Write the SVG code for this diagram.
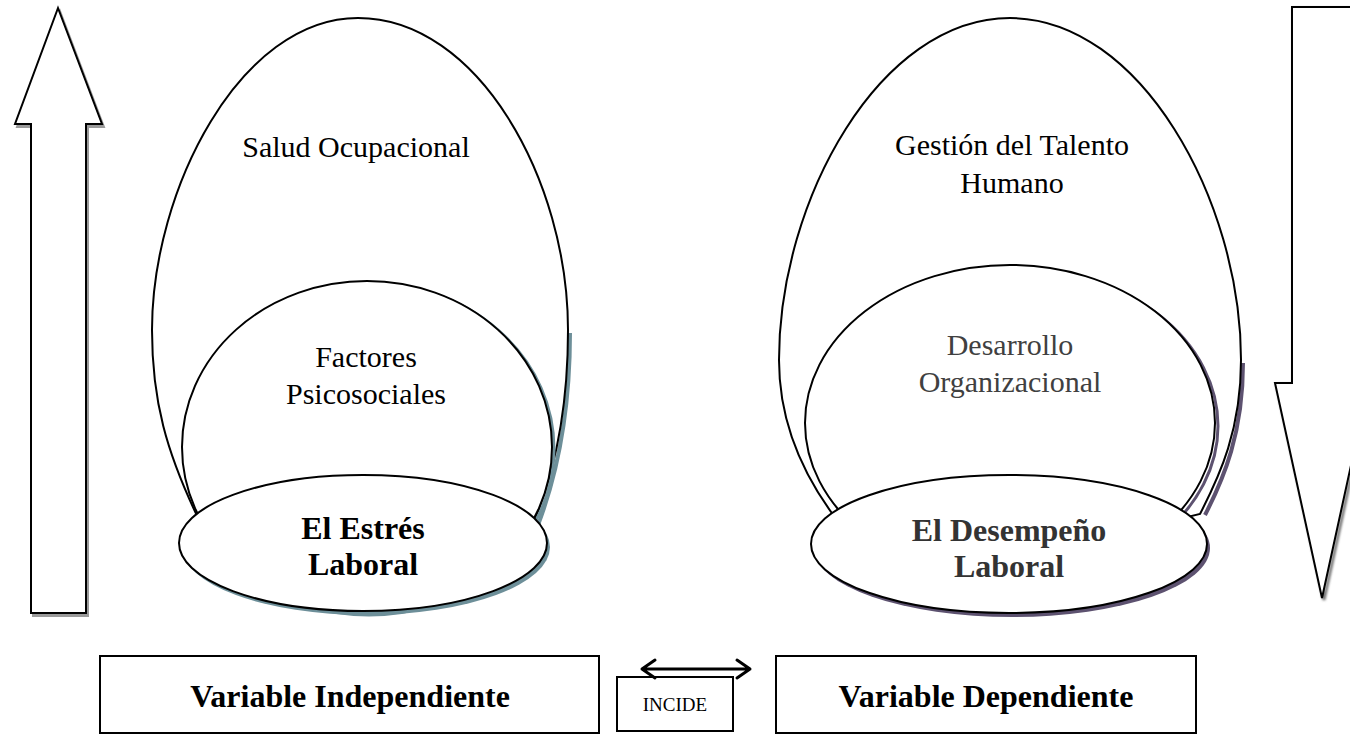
<svg xmlns="http://www.w3.org/2000/svg" width="1350" height="739" viewBox="0 0 1350 739">
<defs>
<style>
.shape{fill:#fff;stroke:#000;stroke-width:2}
.shL{fill:none;stroke:#6d8f99;stroke-width:4}
.shR{fill:none;stroke:#5d5270;stroke-width:4}
.t{font-family:"Liberation Serif","Times New Roman",serif;font-size:30px;fill:#000;text-anchor:middle}
.b{font-weight:bold;font-size:32px}
.g{fill:#404040}
.d{fill:#333}
</style>
<filter id="blur" x="-20%" y="-20%" width="140%" height="140%"><feGaussianBlur stdDeviation="1.2"/></filter>
</defs>

<g id="arrow-up">
<path d="M58 8 L102 124 L86 124 L86 613 L31 613 L31 124 L15 124 Z" transform="translate(2,3)" fill="#9a9a9a" stroke="#9a9a9a" stroke-width="2"/>
<path class="shape" d="M58 8 L102 124 L86 124 L86 613 L31 613 L31 124 L15 124 Z"/>
</g>

<g id="arrow-down">
<path d="M1292 7 L1352 7 L1352 383 L1369 383 L1322 598 L1275 383 L1292 383 Z" transform="translate(2,2)" fill="none" stroke="#777" stroke-width="3" filter="url(#blur)"/>
<path class="shape" d="M1292 7 L1352 7 L1352 383 L1369 383 L1322 598 L1275 383 L1292 383 Z"/>
</g>

<g id="salud-ocupacional">
<path class="shL" transform="translate(2,3)" d="M568 330 C568 420 552 480 536 522"/>
<path class="shape" d="M358 18 C240 18 152 190 152 330 C152 400 166 452 200 522 L360 560 L532 526 C552 480 568 420 568 330 C568 180 478 18 358 18 Z"/>
<text class="t" x="356" y="157">Salud Ocupacional</text>
</g>

<g id="factores-psicosociales">
<ellipse cx="369" cy="449" rx="185" ry="166" fill="none" stroke="#6d8f99" stroke-width="3"/>
<ellipse class="shape" cx="367" cy="447" rx="185" ry="166"/>
<text class="t" x="366" y="367">Factores</text>
<text class="t" x="366" y="404">Psicosociales</text>
</g>

<g id="estres-laboral">
<ellipse cx="366" cy="547" rx="184" ry="68" fill="#6d8f99"/>
<ellipse class="shape" cx="363" cy="543" rx="184" ry="68"/>
<text class="t b" x="363" y="539">El Estrés</text>
<text class="t b" x="363" y="575">Laboral</text>
</g>

<g id="gestion-talento">
<path class="shR" transform="translate(2,3)" d="M1241 360 C1241 430 1222 475 1203 512"/>
<path class="shape" d="M1010 18 C880 18 779 200 779 360 C779 420 800 470 834 516 L1010 560 L1200 514 C1220 475 1241 430 1241 360 C1241 200 1140 18 1010 18 Z"/>
<text class="t" x="1012" y="155">Gestión del Talento</text>
<text class="t" x="1012" y="193">Humano</text>
</g>

<g id="desarrollo-organizacional">
<ellipse cx="1013" cy="426" rx="205" ry="158" fill="none" stroke="#5d5270" stroke-width="3"/>
<ellipse class="shape" cx="1010" cy="423" rx="205" ry="158"/>
<text class="t g" x="1010" y="355">Desarrollo</text>
<text class="t g" x="1010" y="392">Organizacional</text>
</g>

<g id="desempeno-laboral">
<ellipse cx="1012" cy="548" rx="198" ry="69" fill="#5d5270"/>
<ellipse class="shape" cx="1009" cy="544" rx="198" ry="69"/>
<text class="t b d" x="1009" y="541">El Desempeño</text>
<text class="t b d" x="1009" y="577">Laboral</text>
</g>

<g id="variable-independiente">
<rect class="shape" x="100" y="656" width="499" height="77"/>
<text class="t b" x="350" y="707">Variable Independiente</text>
</g>

<g id="incide">
<rect class="shape" x="617" y="677" width="116" height="54"/>
<text class="t" x="675" y="711" style="font-size:19px">INCIDE</text>
</g>

<g id="variable-dependiente">
<rect class="shape" x="776" y="656" width="420" height="77"/>
<text class="t b" x="986" y="707">Variable Dependiente</text>
</g>

<g id="connectors">
<path d="M642 669 L750 669 M655 660 L642 669 L655 678 M737 660 L750 669 L737 678" fill="none" stroke="#000" stroke-width="3" stroke-linecap="round" stroke-linejoin="round"/>
</g>
</svg>
